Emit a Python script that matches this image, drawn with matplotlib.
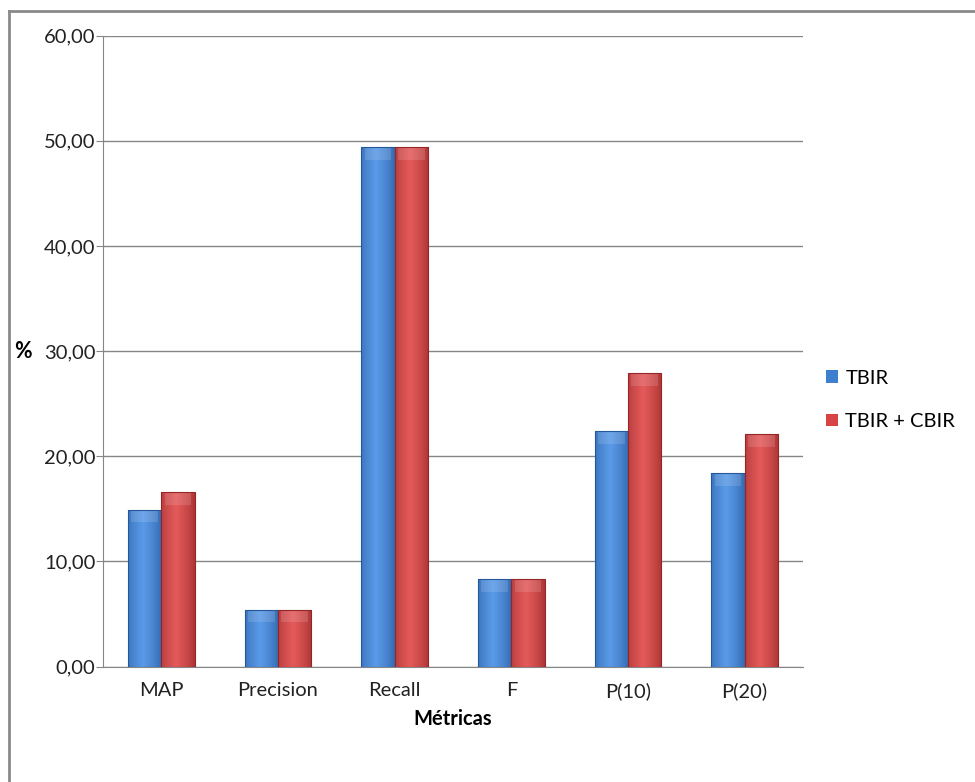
import numpy as np
import matplotlib.pyplot as plt
from matplotlib.patches import Rectangle
from matplotlib.lines import Line2D

# data
metricas = ['MAP', 'Precision', 'Recall', 'F', 'P(10)', 'P(20)']
tbir = [14.9, 5.4, 49.4, 8.3, 22.4, 18.4]
tbir_cbir = [16.6, 5.4, 49.4, 8.3, 27.9, 22.1]
series_names = ['TBIR', 'TBIR + CBIR']
yticks = [0, 10, 20, 30, 40, 50, 60]

plt.rcParams['font.family'] = ['Lato', 'DejaVu Sans']
fs = 14.5

fig = plt.figure(figsize=(9.75, 7.82), dpi=100)
ax = fig.add_axes([103 / 975, (782 - 666.5) / 782, 700 / 975, 630.8 / 782])

# outer chart border (only top and left edges are visible)
fig.lines.append(Line2D([9 / 975, 1], [1 - 11 / 782, 1 - 11 / 782],
                        transform=fig.transFigure, color='#8a8a8a', linewidth=2))
fig.lines.append(Line2D([9 / 975, 9 / 975], [0, 1 - 11 / 782],
                        transform=fig.transFigure, color='#8a8a8a', linewidth=2))


def shaded_bars(x, h, w, base, dark, light):
    bars = ax.bar(x, h, w, color=base, edgecolor='none', zorder=3)
    # horizontal gradient: dark edges, light middle
    t = np.linspace(0, 1, 64)
    prof = 1 - np.abs(t - 0.45) * 1.6
    prof = np.clip(prof, 0, 1) ** 0.6
    c_dark = np.array(plt.matplotlib.colors.to_rgb(dark))
    c_light = np.array(plt.matplotlib.colors.to_rgb(light))
    img = c_dark[None, :] + (c_light - c_dark)[None, :] * prof[:, None]
    img = img[None, :, :]
    for b in bars:
        x0, y0 = b.get_x(), b.get_y()
        bw, bh = b.get_width(), b.get_height()
        im = ax.imshow(img, extent=[x0, x0 + bw, y0, y0 + bh], aspect='auto',
                       zorder=4, interpolation='bilinear')
        im.set_clip_path(b)
        # top bevel highlight
        cap = min(1.2, bh * 0.3)
        ax.add_patch(Rectangle((x0 + bw * 0.1, y0 + bh - cap), bw * 0.8, cap,
                               facecolor='white', alpha=0.13, edgecolor='none',
                               zorder=5))
        ax.add_patch(Rectangle((x0, y0), bw, bh, fill=False,
                               edgecolor=dark, linewidth=0.8, zorder=6))
    return bars


x = np.arange(len(metricas))
w = 1 / 3.5
b1 = shaded_bars(x - w / 2, tbir, w, '#3F7FD0', '#24579A', '#5A9AE8')
b2 = shaded_bars(x + w / 2, tbir_cbir, w, '#D64444', '#962626', '#E45A5A')

ax.set_xlim(-0.5, len(metricas) - 0.5)
ax.set_ylim(0, 60)
ax.set_yticks(yticks)
ax.set_yticklabels(['%d,00' % v for v in yticks], fontsize=fs, color='#222222')
ax.set_xticks(x)
ax.set_xticklabels(metricas, fontsize=fs, color='#222222')
ax.tick_params(axis='x', length=0, pad=11)
ax.tick_params(axis='y', length=5, color='#868686', pad=0.5)

ax.grid(axis='y', color='#868686', linewidth=1, zorder=0)
ax.set_axisbelow(True)
for s in ['top', 'right']:
    ax.spines[s].set_visible(False)
ax.spines['left'].set_color('#868686')
ax.spines['bottom'].set_color('#868686')

ax.set_xlabel('Métricas', fontsize=fs, fontweight='bold', labelpad=7)
fig.text(23 / 975, 1 - 351 / 782, '%', fontsize=fs + 1, fontweight='bold',
         ha='center', va='center')

leg = fig.legend([b1, b2], series_names, loc='center left',
                 bbox_to_anchor=(808 / 975, 1 - 400 / 782), frameon=False,
                 fontsize=fs, handlelength=0.6, handleheight=0.6,
                 handletextpad=0.35, labelspacing=1.3)

fig.savefig('out.png', dpi=100)
